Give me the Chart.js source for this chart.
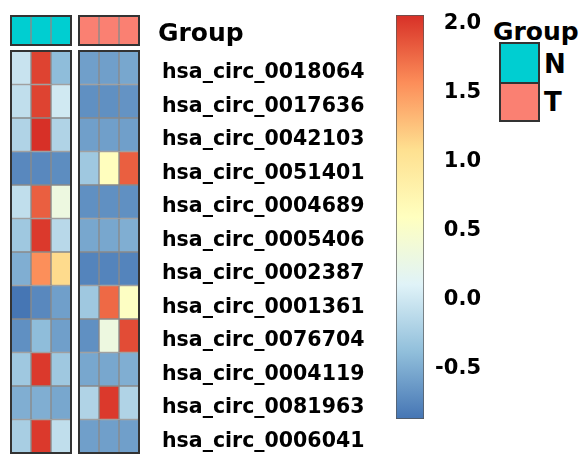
<!DOCTYPE html>
<html>
<head>
<meta charset="utf-8">
<script src="https://cdn.jsdelivr.net/npm/chart.js@4.4.1/dist/chart.umd.min.js"></script>
<style>
  body { margin: 0; background: #fff; width: 581px; height: 454px; overflow: hidden; position: relative; }
  canvas { position: absolute; top: 0; }
  .lbl { position: absolute; font: bold 25px "DejaVu Sans", sans-serif; line-height: 25px; color: #000; white-space: nowrap; }
  #keyBox { position: absolute; left: 499px; top: 42px; width: 41px; height: 80px; border: 2px solid #333; box-sizing: border-box; }
  #keyBox div { height: 38px; }
  #keyBox div + div { border-top: 2px solid #333; height: 36px; }
</style>
</head>
<body>
<canvas id="groupChart" width="380" height="50" style="left:0"></canvas>
<canvas id="heatChart" width="380" height="454" style="left:0"></canvas>
<canvas id="scaleChart" width="110" height="454" style="left:380px"></canvas>
<div class="lbl" style="left:493px;top:19px">Group</div>
<div id="keyBox"><div id="keyN"></div><div id="keyT"></div></div>
<div class="lbl" style="left:544px;top:51px;font-size:26px;line-height:26px">N</div>
<div class="lbl" style="left:544px;top:89px;font-size:26px;line-height:26px">T</div>
<script>
// rows of the heatmap
const rowNames = [
  'hsa_circ_0018064', 'hsa_circ_0017636', 'hsa_circ_0042103', 'hsa_circ_0051401',
  'hsa_circ_0004689', 'hsa_circ_0005406', 'hsa_circ_0002387', 'hsa_circ_0001361',
  'hsa_circ_0076704', 'hsa_circ_0004119', 'hsa_circ_0081963', 'hsa_circ_0006041'
];
const sampleGroups = ['N', 'N', 'N', 'T', 'T', 'T'];
const groupNames = ['N', 'T'];
const groupColors = ['#00CED1', '#FA8072'];

// values per sample column
const n1 = [-0.05, -0.1, -0.2, -0.75, -0.1, -0.3, -0.5, -0.87, -0.7, -0.3, -0.5, -0.25];
const n2 = [1.95, 1.95, 2.05, -0.75, 1.8, 2.0, 1.55, -0.75, -0.4, 2.0, -0.5, 2.0];
const n3 = [-0.4, 0.0, -0.2, -0.72, 0.3, -0.15, 1.1, -0.6, -0.6, -0.3, -0.55, -0.1];
const t1 = [-0.6, -0.7, -0.6, -0.3, -0.7, -0.55, -0.78, -0.3, -0.7, -0.55, -0.2, -0.6];
const t2 = [-0.6, -0.7, -0.6, 0.6, -0.7, -0.55, -0.78, 1.75, 0.3, -0.55, 2.0, -0.6];
const t3 = [-0.55, -0.68, -0.6, 1.8, -0.7, -0.5, -0.78, 0.55, 1.9, -0.5, -0.2, -0.6];
const columns = [n1, n2, n3, t1, t2, t3];

// colour scale
const scaleMin = -0.876;
const scaleMax = 2.047;
const scaleTicks = [-0.5, 0, 0.5, 1, 1.5, 2];
const palette = ['#4575B4', '#91BFDB', '#E0F3F8', '#FFFFBF', '#FEE090', '#FC8D59', '#D73027'];

const GAP = 0.4;
const FONT = '"DejaVu Sans", sans-serif';

document.getElementById('keyN').style.background = groupColors[0];
document.getElementById('keyT').style.background = groupColors[1];

function hexRgb(h) {
  return [1, 3, 5].map(i => parseInt(h.slice(i, i + 2), 16));
}

function colorFor(v) {
  let t = (v - scaleMin) / (scaleMax - scaleMin);
  t = Math.max(0, Math.min(1, t)) * (palette.length - 1);
  const i = Math.min(Math.floor(t), palette.length - 2);
  const f = t - i;
  const a = hexRgb(palette[i]), b = hexRgb(palette[i + 1]);
  const c = a.map((x, k) => Math.round(x + (b[k] - x) * f));
  return 'rgb(' + c.join(',') + ')';
}

function colStart(i) {
  return i + groupNames.indexOf(sampleGroups[i]) * GAP;
}

const xMax = sampleGroups.length + (groupNames.length - 1) * GAP;

// dark frame round each group block
const framePlugin = {
  id: 'frame',
  afterDatasetsDraw(chart) {
    const x = chart.scales.x, area = chart.chartArea, ctx = chart.ctx;
    ctx.save();
    ctx.strokeStyle = '#333';
    ctx.lineWidth = 2;
    groupNames.forEach(g => {
      const idx = sampleGroups.map((s, i) => s === g ? i : -1).filter(i => i >= 0);
      const x0 = x.getPixelForValue(colStart(idx[0]));
      const x1 = x.getPixelForValue(colStart(idx[idx.length - 1]) + 1);
      ctx.strokeRect(x0, area.top, x1 - x0, area.bottom - area.top);
    });
    ctx.restore();
  }
};

function fixedAxis(width) {
  return function (scale) {
    scale.width = width;
    scale.paddingTop = 0;
    scale.paddingBottom = 0;
  };
}

const barBase = {
  borderColor: '#8a8a8a',
  borderWidth: 1,
  borderSkipped: false,
  barPercentage: 1,
  categoryPercentage: 1,
  grouped: false
};

// group annotation row
new Chart(document.getElementById('groupChart'), {
  type: 'bar',
  data: {
    labels: ['Group'],
    datasets: sampleGroups.map((g, i) => Object.assign({
      data: [[colStart(i), colStart(i) + 1]],
      backgroundColor: groupColors[groupNames.indexOf(g)]
    }, barBase))
  },
  options: {
    indexAxis: 'y',
    responsive: false,
    animation: false,
    layout: { padding: { left: 11, top: 16, bottom: 5, right: 0 } },
    plugins: { legend: { display: false }, tooltip: { enabled: false } },
    scales: {
      x: { type: 'linear', min: 0, max: xMax, display: false },
      y: {
        position: 'right',
        grid: { display: false },
        border: { display: false },
        ticks: { color: '#000', padding: 11, labelOffset: 4, font: { family: FONT, size: 25, weight: 'bold' } },
        afterFit: fixedAxis(241)
      }
    }
  },
  plugins: [framePlugin]
});

// heatmap body
new Chart(document.getElementById('heatChart'), {
  type: 'bar',
  data: {
    labels: rowNames,
    datasets: columns.map((vals, i) => Object.assign({
      data: vals.map(() => [colStart(i), colStart(i) + 1]),
      backgroundColor: ctx => colorFor(vals[ctx.dataIndex])
    }, barBase))
  },
  options: {
    indexAxis: 'y',
    responsive: false,
    animation: false,
    layout: { padding: { left: 11, top: 51, bottom: 1, right: 0 } },
    plugins: { legend: { display: false }, tooltip: { enabled: false } },
    scales: {
      x: { type: 'linear', min: 0, max: xMax, display: false },
      y: {
        position: 'right',
        grid: { display: false },
        border: { display: false },
        ticks: { color: '#000', padding: 15, labelOffset: 5, font: { family: FONT, size: 20.5, weight: 'bold' } },
        afterFit: fixedAxis(241)
      }
    }
  },
  plugins: [framePlugin]
});

// colour key bar
new Chart(document.getElementById('scaleChart'), {
  type: 'bar',
  data: {
    labels: [''],
    datasets: [{
      data: [[scaleMin, scaleMax]],
      backgroundColor: ctx => {
        const chart = ctx.chart;
        if (!chart.chartArea) return palette[0];
        const y = chart.scales.y;
        const g = chart.ctx.createLinearGradient(0, y.getPixelForValue(scaleMin), 0, y.getPixelForValue(scaleMax));
        palette.forEach((c, i) => g.addColorStop(i / (palette.length - 1), c));
        return g;
      },
      borderColor: '#555',
      borderWidth: 1,
      borderSkipped: false,
      barPercentage: 1,
      categoryPercentage: 1
    }]
  },
  options: {
    responsive: false,
    animation: false,
    layout: { padding: { left: 16, top: 15, bottom: 35, right: 9 } },
    plugins: { legend: { display: false }, tooltip: { enabled: false } },
    scales: {
      x: { display: false },
      y: {
        position: 'right',
        min: scaleMin,
        max: scaleMax,
        grid: { display: false },
        border: { display: false },
        afterBuildTicks: scale => { scale.ticks = scaleTicks.map(v => ({ value: v })); },
        ticks: {
          color: '#000',
          padding: 1,
          labelOffset: 2,
          crossAlign: 'far',
          font: { family: FONT, size: 21, weight: 'bold' },
          callback: v => v.toFixed(1)
        },
        afterFit: fixedAxis(57)
      }
    }
  }
});
</script>
</body>
</html>
